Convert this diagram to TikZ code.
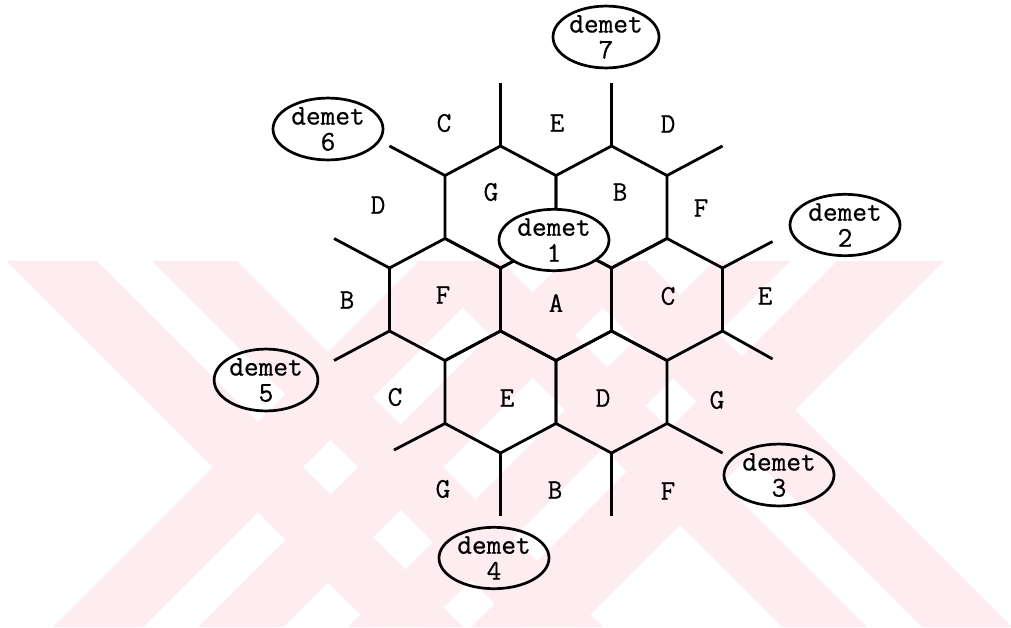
\documentclass[tikz,border=0pt]{standalone}
\usepackage{fontspec}
\newfontfamily\typewr{Latin Modern Mono}[FakeBold=0.6]
\usetikzlibrary{shapes.geometric}

\definecolor{wmark}{RGB}{253,236,240}

\tikzset{
  cluster/.style={ellipse, draw, line width=2.7pt,
    minimum width=110pt, minimum height=61pt, inner sep=0pt,
    align=center, font=\typewr\fontsize{28.5}{26}\selectfont},
  cell/.style={font=\typewr\fontsize{28.5}{26}\selectfont, inner sep=0pt}
}

\begin{document}
\begin{tikzpicture}[x=1pt,y=-1pt,line width=2.8pt]
  \useasboundingbox (0,0) rectangle (1011,627);

  % Watermark in the background
  \begin{scope}
    \clip (0,261) rectangle (1011,627);
    \foreach \a/\b in {-254/-164, -109/-24, 155/240, 295/385}
      \fill[wmark] (\a+261,261) -- (\b+261,261) -- (\b+627,627) -- (\a+627,627) -- cycle;
    \foreach \a/\b in {680/770, 825/910, 975/1051, 1098/1205}
      \fill[wmark] (\a-261,261) -- (\b-261,261) -- (\b-627,627) -- (\a-627,627) -- cycle;
  \end{scope}

  % Cell centres of the seven-cell cluster
  \coordinate (G) at (500.5,207);
  \coordinate (B) at (611.5,207);
  \coordinate (F) at (445,299.5);
  \coordinate (A) at (556,299.5);
  \coordinate (C) at (667,299.5);
  \coordinate (E) at (500.5,392);
  \coordinate (D) at (611.5,392);

  % Hexagons
  \foreach \c in {G,B,F,A,C,E,D}
    \draw (\c) ++(0,-61) -- ++(55.5,29.5) -- ++(0,63) -- ++(-55.5,29.5)
      -- ++(-55.5,-29.5) -- ++(0,-63) -- cycle;

  % Stubs towards the neighbouring clusters
  \foreach \c/\vx/\vy/\dx/\dy in {G/0/-61/0/-63, B/0/-61/0/-63,
      G/-55.5/-31.5/-55.5/-29.5, B/55.5/-31.5/55.5/-29.5,
      F/-55.5/-31.5/-55.5/-29.5, F/-55.5/31.5/-55.5/29.5,
      C/55.5/-31.5/50/-26.5, C/55.5/31.5/50/28,
      E/-55.5/31.5/-51/26.5, E/0/61/0/63,
      D/0/61/0/63, D/55.5/31.5/55.5/29.5}
    \draw (\c) ++(\vx,\vy) -- ++(\dx,\dy);

  % Clusters
  \node[cluster, fill=white] (d1) at (554,240) {demet\\1};
  \node[cluster] (d2) at (845,225) {demet\\2};
  \node[cluster] (d3) at (779,475) {demet\\3};
  \node[cluster] (d4) at (494,558) {demet\\4};
  \node[cluster, minimum width=103pt] (d5) at (266,380) {demet\\5};
  \node[cluster] (d6) at (328,129) {demet\\6};
  \node[cluster, minimum width=106pt] (d7) at (606,37) {demet\\7};

  % Cells of cluster 1
  \node[cell] (nG) at (491,192) {G};
  \node[cell] (nB) at (620,192) {B};
  \node[cell] (nF) at (443,295) {F};
  \node[cell] (nA) at (556,303) {A};
  \node[cell] (nC) at (668,296) {C};
  \node[cell] (nE) at (507,398) {E};
  \node[cell] (nD) at (603,398) {D};

  % Cells of the surrounding clusters
  \node[cell] (oC1) at (444,123) {C};
  \node[cell] (oE1) at (557,123) {E};
  \node[cell] (oD1) at (668,124) {D};
  \node[cell] (oD2) at (378,205) {D};
  \node[cell] (oF1) at (701,208) {F};
  \node[cell] (oB1) at (347,300) {B};
  \node[cell] (oE2) at (765,296) {E};
  \node[cell] (oC2) at (395,397) {C};
  \node[cell] (oG1) at (717,400) {G};
  \node[cell] (oG2) at (443,489) {G};
  \node[cell] (oB2) at (555,490) {B};
  \node[cell] (oF2) at (668,491) {F};

\end{tikzpicture}
\end{document}
